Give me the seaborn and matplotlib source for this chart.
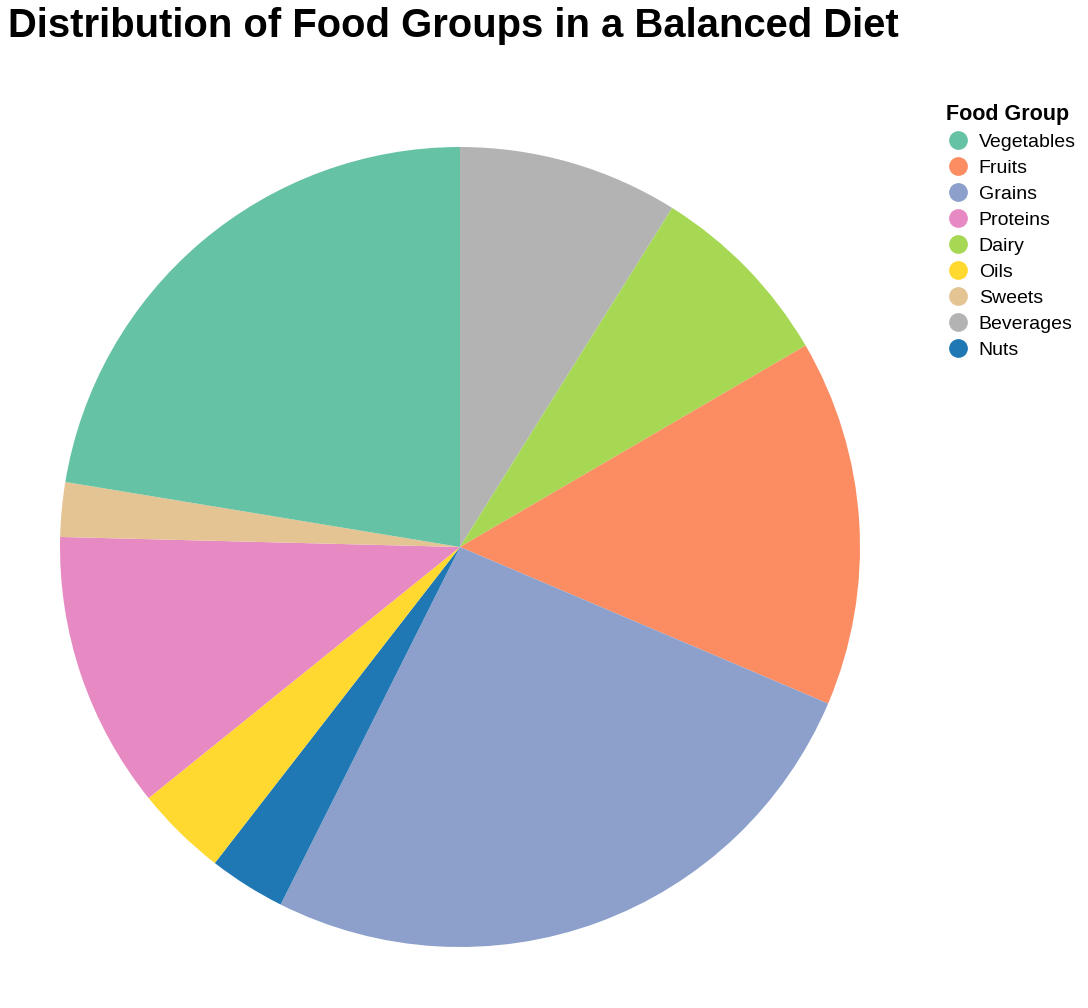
import matplotlib
matplotlib.use("Agg")
import matplotlib.pyplot as plt
import seaborn as sns
from matplotlib.lines import Line2D

# Data (shares of a balanced diet, %)
food_groups = ["Beverages", "Dairy", "Fruits", "Grains", "Nuts", "Oils", "Proteins", "Sweets", "Vegetables"]
shares = [8.9, 7.7, 14.8, 26.0, 3.1, 3.7, 11.2, 2.2, 22.4]
legend_order = ["Vegetables", "Fruits", "Grains", "Proteins", "Dairy", "Oils", "Sweets", "Beverages", "Nuts"]

sns.set_theme(style="white")
plt.rcParams["font.family"] = ["Liberation Sans", "DejaVu Sans"]
plt.rcParams["text.color"] = "black"

set2 = sns.color_palette("Set2", 8)
colors = dict(zip(legend_order[:8], set2))
colors["Nuts"] = "#1f77b4"

fig = plt.figure(figsize=(10.88, 10.08), dpi=100)
ax = fig.add_axes([60 / 1088, 61 / 1008, 800 / 1088, 800 / 1008])
ax.pie(shares, colors=[colors[g] for g in food_groups], startangle=90,
       counterclock=False, wedgeprops=dict(linewidth=0))
ax.set_xlim(-1, 1)
ax.set_ylim(-1, 1)
ax.set_aspect("equal")
ax.axis("off")

fig.text(8 / 1088, 1 - 7 / 1008, "Distribution of Food Groups in a Balanced Diet",
         fontsize=28.8, fontweight="bold", va="top", ha="left", color="black")

handles = [Line2D([0], [0], marker="o", linestyle="", markersize=13.5,
                  markerfacecolor=colors[g], markeredgewidth=0) for g in legend_order]
leg = fig.legend(handles, legend_order, title="Food Group", loc="upper left",
                 bbox_to_anchor=(946 / 1088, 1 - 104 / 1008), frameon=False,
                 fontsize=14, title_fontsize=15.5, labelspacing=0.43,
                 handletextpad=0.48, handlelength=1.2, borderaxespad=0, borderpad=0)
leg.get_title().set_fontweight("bold")
leg._legend_box.align = "left"
for t in leg.get_texts():
    t.set_color("black")

fig.savefig("out.png", dpi=100)
